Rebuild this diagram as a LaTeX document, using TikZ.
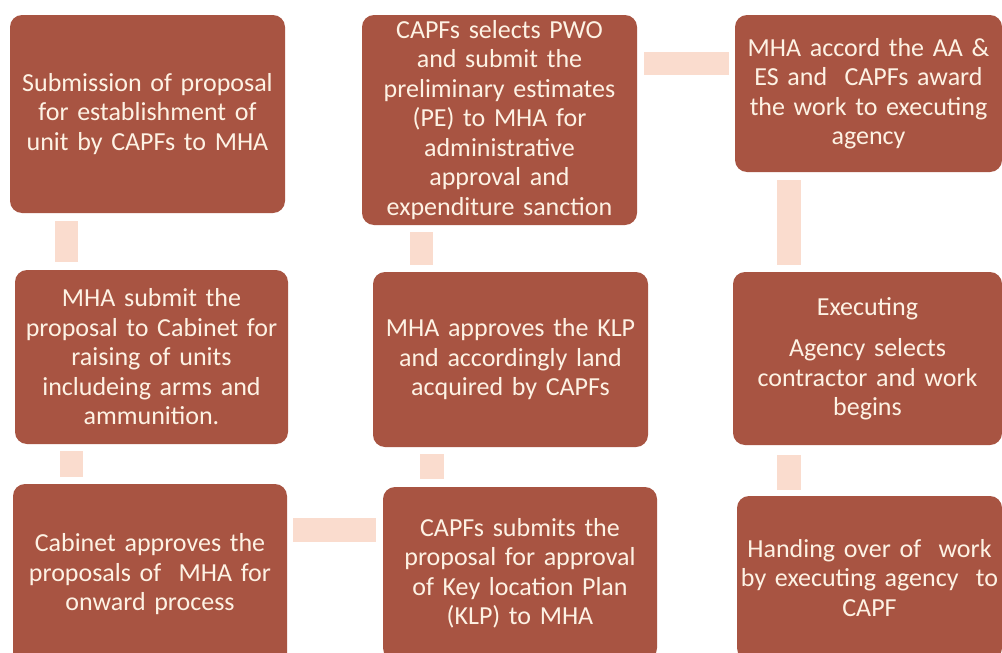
\documentclass[tikz,border=0pt]{standalone}
\usepackage{fontspec}
\setmainfont{Carlito}
\definecolor{boxfill}{RGB}{168,84,66}
\definecolor{boxtext}{RGB}{253,242,228}
\definecolor{connfill}{RGB}{250,220,206}
\begin{document}
\begin{tikzpicture}[x=1pt,y=-1pt,
  stepbox/.style={fill=boxfill, rounded corners=12pt, inner sep=0pt, align=center,
    text=boxtext, font=\fontsize{26}{29.5}\selectfont},
  conn/.style={draw=connfill, line width=23.5pt}]
\useasboundingbox (0,0) rectangle (1002,653);
\clip (0,0) rectangle (1002,653);
\fill[white] (0,0) rectangle (1002,653);
% row 1
\node[stepbox, minimum width=275pt, minimum height=198pt, text width=270pt] (b1) at (147.5,114)
  {Submission of proposal\\for establishment of\\unit by CAPFs to MHA};
\node[stepbox, minimum width=275pt, minimum height=210pt, text width=270pt] (b2) at (499.5,120)
  {CAPFs selects PWO\\and submit the\\preliminary estimates\\(PE) to MHA for\\administrative\\approval and\\expenditure sanction};
\node[stepbox, minimum width=267pt, minimum height=157pt, text width=264pt] (b3) at (868.5,93.5)
  {MHA accord the AA \&\\ES and\ \ CAPFs award\\the work to executing\\agency};
% row 2
\node[stepbox, minimum width=273pt, minimum height=174pt, text width=270pt] (b4) at (151.5,357)
  {MHA submit the\\proposal to Cabinet for\\raising of units\\includeing arms and\\ammunition.};
\node[stepbox, minimum width=275pt, minimum height=175pt, text width=270pt] (b5) at (510.5,359.5)
  {MHA approves the KLP\\and accordingly land\\acquired by CAPFs};
\node[stepbox, minimum width=269pt, minimum height=173pt, text width=264pt] (b6) at (867.5,358.5)
  {Executing\\[12pt]Agency selects\\contractor and work\\begins};
% row 3
\node[stepbox, minimum width=274pt, minimum height=181pt, text width=270pt] (b7) at (150,574.5)
  {Cabinet approves the\\proposals of\ \ MHA for\\onward process};
\node[stepbox, minimum width=274pt, minimum height=173pt, text width=270pt] (b8) at (520,573.5)
  {CAPFs submits the\\proposal for approval\\of Key location Plan\\(KLP) to MHA};
\node[stepbox, minimum width=265pt, minimum height=164pt, text width=264pt] (b9) at (869.5,578)
  {Handing over of\ \ work\\by executing agency\ \ to\\CAPF};
% connectors
\draw[conn, shorten <=8pt, shorten >=8pt] ([xshift=56.5pt]b1.south west) -- ([xshift=56.5pt]b1.south west |- b4.north);
\draw[conn, shorten <=7pt, shorten >=7pt] ([xshift=56.5pt]b4.south west) -- ([xshift=56.5pt]b4.south west |- b7.north);
\draw[conn, shorten <=6pt, shorten >=7pt] (b7.east |- 0,530) -- (b8.west |- 0,530);
\draw[conn, shorten <=8pt, shorten >=7pt] ([xshift=49pt]b8.north west) -- ([xshift=49pt]b8.north west |- b5.south);
\draw[conn, shorten <=7pt, shorten >=7pt] ([xshift=48.5pt]b5.north west) -- ([xshift=48.5pt]b5.north west |- b2.south);
\draw[conn, shorten <=7pt, shorten >=6pt] (b2.east |- 0,63.5) -- (b3.west |- 0,63.5);
\draw[conn, shorten <=8pt, shorten >=7pt] ([xshift=54pt]b3.south west) -- ([xshift=54pt]b3.south west |- b6.north);
\draw[conn, shorten <=10pt, shorten >=6pt] ([xshift=56pt]b6.south west) -- ([xshift=56pt]b6.south west |- b9.north);
\end{tikzpicture}
\end{document}
